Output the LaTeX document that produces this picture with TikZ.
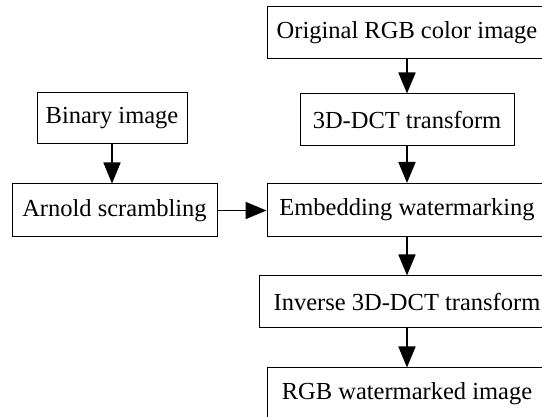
\documentclass[tikz,border=0pt]{standalone}
\usepackage{fontspec}
\setmainfont{Liberation Serif}
\usetikzlibrary{arrows.meta}
\tikzset{
  stage/.style={draw=black, line width=1pt, rectangle, inner sep=0pt,
    minimum height=52pt, font=\fontsize{24.5}{28}\selectfont},
  flow/.style={line width=1.8pt, -{Triangle[width=17pt,length=21pt]}}
}
\begin{document}
\begin{tikzpicture}[x=1pt,y=-1pt]
  \useasboundingbox (0,0) rectangle (542,417);
  \clip (0,0) rectangle (542,417);
  % main pipeline on the right
  \node[stage, minimum width=280pt] (orig) at (407,33) {Original RGB color image};
  \node[stage, minimum width=214pt] (dct) at (407,120) {3D-DCT transform};
  \node[stage, minimum width=280pt, minimum height=53pt] (emb) at (407,210) {Embedding watermarking};
  \node[stage, minimum width=296pt] (inv) at (407,302) {Inverse 3D-DCT transform};
  \node[stage, minimum width=280pt] (rgb) at (407,394) {RGB watermarked image};
  % watermark branch on the left
  \node[stage, minimum width=150pt, minimum height=51pt] (bin) at (112,118) {Binary image};
  \node[stage, minimum width=205pt, minimum height=53pt] (arn) at (114.5,210.5) {Arnold scrambling};
  % connectors
  \draw[flow] (orig) -- (dct);
  \draw[flow] (dct) -- (emb);
  \draw[flow] (emb) -- (inv);
  \draw[flow] (inv) -- (rgb);
  \draw[flow] (bin.south) -- (bin.south |- arn.north);
  \draw[flow] (arn.east) -- (arn.east -| emb.west);
\end{tikzpicture}
\end{document}
